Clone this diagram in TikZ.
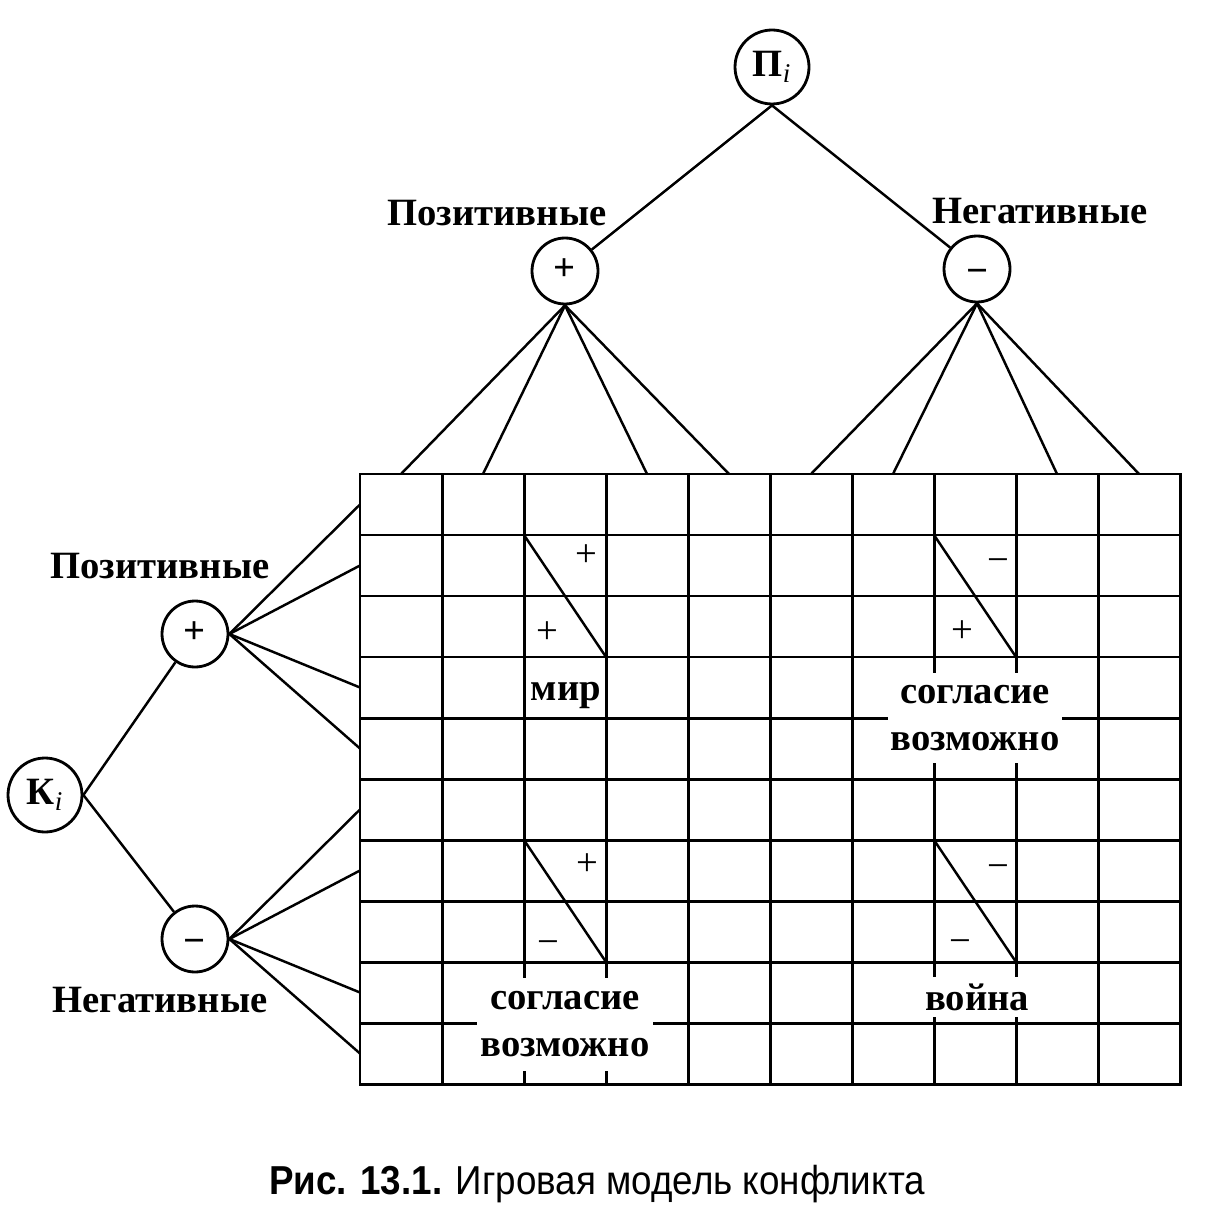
\documentclass[tikz,border=0pt]{standalone}
\usepackage{fontspec}
\setmainfont{Liberation Serif}
\newfontfamily\podpisfont[FakeStretch=0.91]{Liberation Sans}
\newcommand{\minuszn}{\raisebox{-2.5pt}{−}}

\begin{document}
\begin{tikzpicture}[x=0.02cm, y=-0.02cm, every node/.style={font=\fontsize{22}{27}\selectfont\bfseries}]
			\tikzset{
				uzel/.style={draw, circle, line width=1.6pt, minimum size=1.32cm, inner sep=0pt,
					text height=11pt, text depth=0pt},
				koren/.style={draw, circle, line width=1.6pt, minimum size=1.48cm, inner sep=0pt},
				vetv/.style={line width=1.4pt},
				setka/.style={line width=1.7pt, line cap=rect},
				znak/.style={inner sep=0pt, text height=11pt, text depth=0pt, font=\fontsize{22}{27}\selectfont},
				itog/.style={fill=white, inner sep=0pt, align=center}
			}
			\useasboundingbox (0,0) rectangle (1206,1209);
			% таблица 10 x 10
			\foreach \i in {0,...,10} {
				\draw[setka] (360+82*\i,474) -- (360+82*\i,1084);
				\draw[setka] (360,474+61*\i) -- (1180,474+61*\i);
			}
			\draw[vetv] (524,535) -- (606,657);
			\draw[vetv] (934,535) -- (1016,657);
			\draw[vetv] (524,840) -- (606,962);
			\draw[vetv] (934,840) -- (1016,962);
			\node[znak] (z1) at (586,557) {+};
			\node[znak] (z2) at (547,634) {+};
			\node[znak] (z3) at (998,558) {\minuszn};
			\node[znak] (z4) at (962,633) {+};
			\node[znak] (z5) at (587,866) {+};
			\node[znak] (z6) at (548,940) {\minuszn};
			\node[znak] (z7) at (998,864) {\minuszn};
			\node[znak] (z8) at (960,939) {\minuszn};
			\node (mir) at (566,696) {мир};
			\node[itog, minimum width=3.48cm, minimum height=1.8cm] (soglasie1) at (975,718) {согласие\\возможно};
			\node[itog, minimum width=3.52cm, minimum height=1.86cm] (soglasie2) at (565,1024) {согласие\\возможно};
			\node[itog, minimum width=2.1cm, minimum height=0.8cm] (voina) at (977,997) {война};
			% дерево П
			\node[koren] (P) at (772,67) {П\textsubscript{\mdseries\itshape i}};
			\node[uzel] (pplus) at (565,271) {+};
			\node[uzel] (pminus) at (977,269) {\minuszn};
			\node (pplusname) at (497,213) {Позитивные};
			\node (pminusname) at (1040,211) {Негативные};
			% дерево К
			\node[koren] (K) at (45,795) {К\textsubscript{\mdseries\itshape i}};
			\node[uzel] (kplus) at (195,634) {+};
			\node[uzel] (kminus) at (195,939) {\minuszn};
			\node (kplusname) at (160,566) {Позитивные};
			\node (kminusname) at (160,1000) {Негативные};
			% концы ветвей на краях таблицы
			\coordinate (v1) at (401,474);
			\coordinate (v2) at (483,474);
			\coordinate (v3) at (647,474);
			\coordinate (v4) at (729,474);
			\coordinate (v5) at (811,474);
			\coordinate (v6) at (893,474);
			\coordinate (v7) at (1057,474);
			\coordinate (v8) at (1139,474);
			\coordinate (g1) at (360,504.5);
			\coordinate (g2) at (360,565.5);
			\coordinate (g3) at (360,687.5);
			\coordinate (g4) at (360,748.5);
			\coordinate (g5) at (360,809.5);
			\coordinate (g6) at (360,870.5);
			\coordinate (g7) at (360,992.5);
			\coordinate (g8) at (360,1053.5);
			\draw[vetv] (P.south) -- (pplus);
			\draw[vetv] (P.south) -- (pminus);
			\draw[vetv] (K.east) -- (kplus);
			\draw[vetv] (K.east) -- (kminus);
			\foreach \n in {v1,v2,v3,v4} \draw[vetv] (pplus.south) -- (\n);
			\foreach \n in {v5,v6,v7,v8} \draw[vetv] (pminus.south) -- (\n);
			\foreach \n in {g1,g2,g3,g4} \draw[vetv] (kplus.east) -- (\n);
			\foreach \n in {g5,g6,g7,g8} \draw[vetv] (kminus.east) -- (\n);
			\node[font=\podpisfont\fontsize{23}{27}\selectfont] (podpis) at (597,1184) {\textbf{Рис. 13.1.} Игровая модель конфликта};
		\end{tikzpicture}
\end{document}
